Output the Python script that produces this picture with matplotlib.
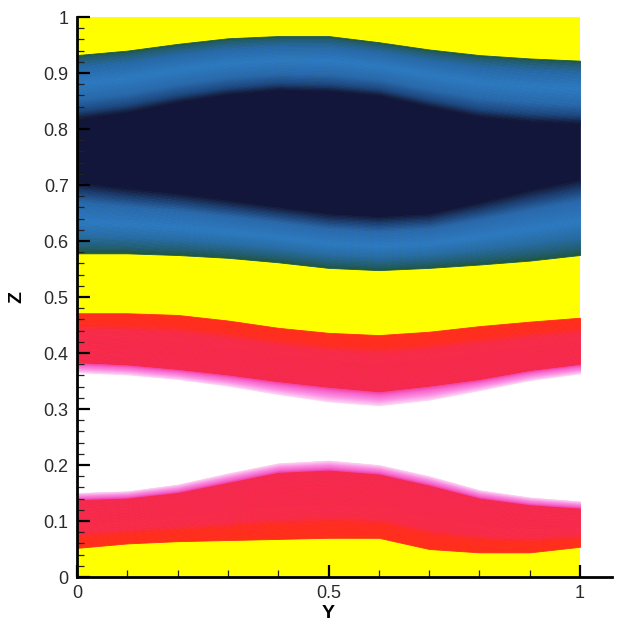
import numpy as np
import matplotlib
matplotlib.use("Agg")
import matplotlib.pyplot as plt
from matplotlib.colors import to_rgb
from matplotlib.ticker import FixedLocator

# ---- data: band boundaries (Z) at these Y positions ----
y_pos = [0.0, 0.1, 0.2, 0.3, 0.4, 0.5, 0.6, 0.7, 0.8, 0.9, 1.0]

# upper (blue) structure
blue_top_edge = [0.932, 0.940, 0.952, 0.962, 0.966, 0.966, 0.955, 0.942, 0.932, 0.926, 0.922]
navy_top = [0.818, 0.830, 0.848, 0.862, 0.870, 0.868, 0.860, 0.840, 0.822, 0.814, 0.810]
navy_bottom = [0.704, 0.693, 0.684, 0.672, 0.660, 0.648, 0.643, 0.648, 0.668, 0.690, 0.709]
blue_bottom_edge = [0.578, 0.578, 0.575, 0.570, 0.562, 0.552, 0.548, 0.552, 0.558, 0.565, 0.575]

# lower (red) structure
red_top_edge = [0.471, 0.471, 0.468, 0.458, 0.445, 0.436, 0.432, 0.438, 0.448, 0.456, 0.463]
upper_pink = [0.382, 0.378, 0.370, 0.360, 0.348, 0.338, 0.330, 0.340, 0.352, 0.368, 0.379]
upper_white = [0.364, 0.360, 0.352, 0.340, 0.325, 0.312, 0.305, 0.315, 0.332, 0.350, 0.362]
lower_white = [0.150, 0.153, 0.165, 0.185, 0.203, 0.208, 0.200, 0.180, 0.155, 0.142, 0.135]
lower_crimson = [0.137, 0.140, 0.150, 0.168, 0.186, 0.190, 0.183, 0.163, 0.140, 0.128, 0.122]
red_bottom_edge = [0.052, 0.060, 0.064, 0.066, 0.068, 0.070, 0.070, 0.050, 0.044, 0.044, 0.054]

z_ticks = [0.0, 0.1, 0.2, 0.3, 0.4, 0.5, 0.6, 0.7, 0.8, 0.9, 1.0]
z_ticklabels = ["0", "0.1", "0.2", "0.3", "0.4", "0.5", "0.6", "0.7", "0.8", "0.9", "1"]
y_ticks = [0.0, 0.5, 1.0]
y_ticklabels = ["0", "0.5", "1"]

# ---- style ----
YELLOW = "#ffff00"
plt.rcParams["font.family"] = ["Liberation Sans", "DejaVu Sans"]

fig = plt.figure(figsize=(6.35, 6.27), dpi=100)
ax = fig.add_axes([77 / 635, 1 - 577 / 627, 535 / 635, 560 / 627])

Y = np.array(y_pos)


def A(a):
    return np.array(a, dtype=float)


def band(lo, hi, color):
    ax.fill_between(Y, lo, hi, facecolor=color, edgecolor=color, lw=0.6, zorder=0.8)


def gradient_band(z_from, z_to, stops, n=40):
    """smooth colour ramp between two boundaries; stops = [(fraction, colour), ...]"""
    a, b = A(z_from), A(z_to)
    fs = np.array([s[0] for s in stops])
    cs = np.array([to_rgb(s[1]) for s in stops])
    for i in range(n):
        f0, f1 = i / n, (i + 1) / n
        fm = 0.5 * (f0 + f1)
        col = [np.interp(fm, fs, cs[:, k]) for k in range(3)]
        band(a + f0 * (b - a), a + f1 * (b - a), col)


# yellow background over the data domain
ax.fill_between(Y, 0, 1, color=YELLOW, lw=0, zorder=0.5)

# upper blue band: top edge -> navy
gradient_band(blue_top_edge, navy_top, [
    (0.00, "#1d5642"),
    (0.06, "#215c70"),
    (0.20, "#2568aa"),
    (0.45, "#2b79c2"),
    (0.70, "#2768ad"),
    (0.88, "#1b4680"),
    (1.00, "#12183a"),
])
# navy core
band(A(navy_bottom), A(navy_top), "#11163a")
# lower blue band: navy -> bottom edge
gradient_band(navy_bottom, blue_bottom_edge, [
    (0.00, "#12183a"),
    (0.12, "#1b3d72"),
    (0.28, "#2868ad"),
    (0.55, "#2b79c2"),
    (0.75, "#266ca6"),
    (0.92, "#215c70"),
    (1.00, "#1d5642"),
])

# upper red band
gradient_band(red_top_edge, upper_pink, [
    (0.00, "#ff2e1a"),
    (0.22, "#ff2c22"),
    (0.34, "#f72a4a"),
    (1.00, "#f5284f"),
], n=30)
gradient_band(upper_pink, upper_white, [
    (0.00, "#f0409e"),
    (0.25, "#f766cc"),
    (0.60, "#fa92e4"),
    (1.00, "#fddaf6"),
], n=20)
# white core
band(A(lower_white), A(upper_white), "#ffffff")
# lower pink edge
gradient_band(lower_white, lower_crimson, [
    (0.00, "#fddaf6"),
    (0.40, "#fa92e4"),
    (0.75, "#f766cc"),
    (1.00, "#f0409e"),
], n=20)
# lower red band
gradient_band(lower_crimson, red_bottom_edge, [
    (0.00, "#f5284f"),
    (0.68, "#f72a4a"),
    (0.78, "#ff2c22"),
    (1.00, "#ff2e1a"),
], n=30)

# ---- axes ----
ax.set_xlim(0, 535 / 503)
ax.set_ylim(0, 1)
for s in ("top", "right"):
    ax.spines[s].set_visible(False)
for s in ("left", "bottom"):
    ax.spines[s].set_linewidth(2.0)
    ax.spines[s].set_color("black")
    ax.spines[s].set_zorder(3)

ax.set_yticks(z_ticks)
ax.set_yticklabels(z_ticklabels)
ax.yaxis.set_minor_locator(FixedLocator([v / 50 for v in range(51) if v % 5 != 0]))
ax.set_xticks(y_ticks)
ax.set_xticklabels(y_ticklabels)
ax.xaxis.set_minor_locator(FixedLocator([0.1, 0.2, 0.3, 0.4, 0.6, 0.7, 0.8, 0.9]))

ax.tick_params(which="major", direction="in", length=9, width=1.6, color="black",
               labelsize=13, labelcolor="#2a2a2a", pad=6)
ax.tick_params(which="minor", direction="in", length=5, width=0.9, color="#222222")

ax.set_xlabel("Y", fontsize=14, fontweight="bold")
ax.set_ylabel("Z", fontsize=14, fontweight="bold")
ax.xaxis.set_label_coords((328 - 77) / 535, -0.05)
ax.yaxis.set_label_coords(-0.097, 0.5)

fig.savefig("out.png", dpi=100)
